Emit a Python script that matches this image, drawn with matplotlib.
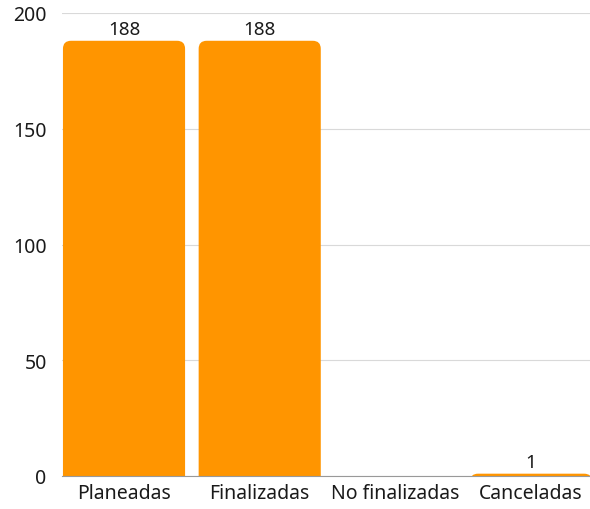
import matplotlib.pyplot as plt
from matplotlib.patches import FancyBboxPatch

categories = ["Planeadas", "Finalizadas", "No finalizadas", "Canceladas"]
values = [188, 188, 0, 1]

plt.rcParams['font.family'] = ['Noto Sans', 'DejaVu Sans']

fig = plt.figure(figsize=(5.9, 5.1), dpi=100)
ax = fig.add_axes([62 / 590, 1 - 477 / 510, 528 / 590, 463 / 510])

xlim = (-0.457, 3.434)
ylim = (0, 200)
ax.set_xlim(*xlim)
ax.set_ylim(*ylim)

# pixels per data unit, used to keep the corner rounding circular
px_x = 528 / (xlim[1] - xlim[0])
px_y = 463 / (ylim[1] - ylim[0])
radius_px = 8
width = 0.9

for i, v in enumerate(values):
    if v <= 0:
        continue
    patch = FancyBboxPatch((i - width / 2, -20), width, v + 20,
                           boxstyle=f"round,pad=0,rounding_size={radius_px / px_x}",
                           mutation_aspect=px_x / px_y,
                           facecolor="#ff9500", edgecolor="none", zorder=2)
    ax.add_patch(patch)
    ax.text(i, v + 1.2, str(v), ha="center", va="bottom", fontsize=13.5, color="#1a1a1a")

ax.set_yticks([0, 50, 100, 150, 200])
ax.set_xticks(range(len(categories)))
ax.set_xticklabels(categories)
ax.tick_params(length=0, labelsize=14, colors="#1a1a1a")
ax.tick_params(axis="y", pad=11)
ax.tick_params(axis="x", pad=5)

ax.grid(axis="y", color="#d9d9d9", linewidth=0.8, zorder=0)
for s in ["top", "right", "left"]:
    ax.spines[s].set_visible(False)
ax.spines["bottom"].set_color("#999999")
ax.spines["bottom"].set_zorder(3)

fig.savefig("out.png", dpi=100)
